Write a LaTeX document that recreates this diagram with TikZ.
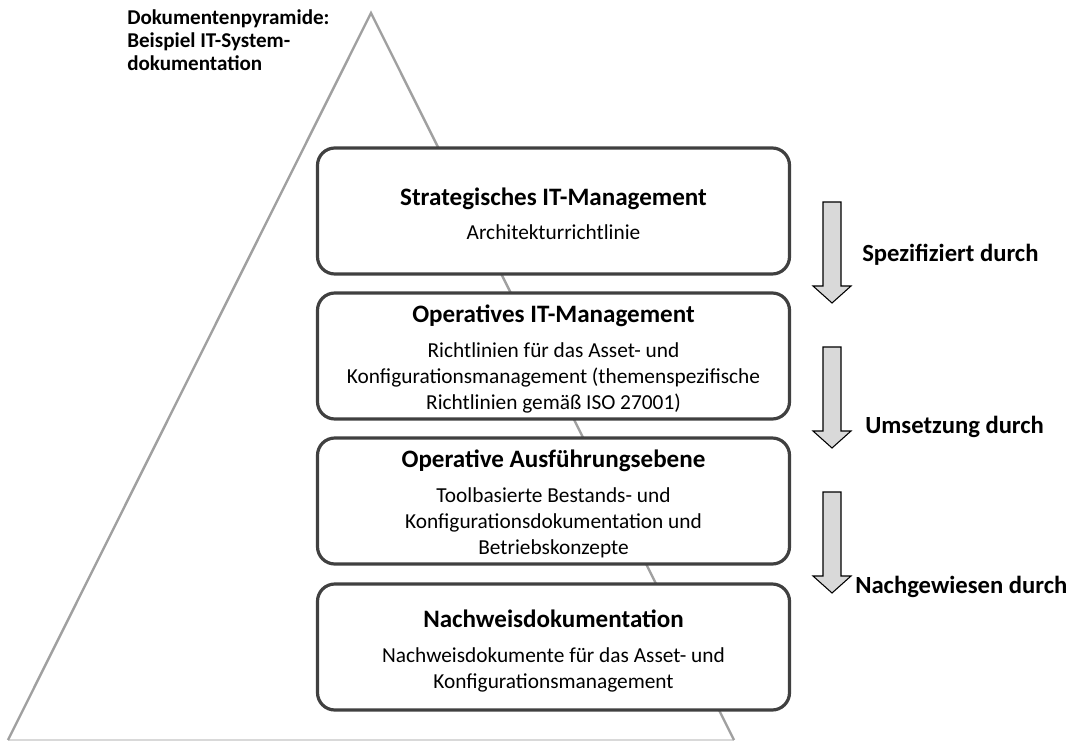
\documentclass[tikz,border=0pt]{standalone}
\usepackage{fontspec}
\setmainfont{Carlito}
\definecolor{edgecol}{HTML}{A0A0A0}
\definecolor{basecol}{HTML}{D9D9D9}
\definecolor{boxline}{HTML}{404040}
\definecolor{arrowfill}{HTML}{D9D9D9}
\tikzset{
  layerbox/.style={draw=boxline, line width=2.4pt, rounded corners=13pt, fill=white,
    minimum width=354pt, minimum height=94.5pt, inner sep=0pt},
  boxtext/.style={align=center, inner sep=0pt, font=\fontsize{16}{19.5}\selectfont},
  downarrow/.style={draw=black, line width=0.8pt, fill=arrowfill},
  sidelabel/.style={font=\bfseries\fontsize{18.5}{20}\selectfont, anchor=west, inner sep=0pt},
}
\newcommand{\ttl}[1]{{\bfseries\fontsize{18.8}{20}\selectfont #1}\\[6.5pt]}
\begin{document}
\begin{tikzpicture}[x=0.75pt,y=-0.75pt]
\useasboundingbox (0,0) rectangle (1081,741);
% pyramid
\coordinate (apex) at (371,13);
\coordinate (bl) at (8,740);
\coordinate (br) at (734,740);
\draw[basecol, line width=1.5pt] (bl) -- (br);
\draw[edgecol, line width=1.8pt] (bl) -- (apex) -- (br);
% title
\node[anchor=north west, align=left, inner sep=0pt, font=\bfseries\fontsize{15.8}{17.4}\selectfont] (title) at (127,9)
  {Dokumentenpyramide:\\Beispiel IT-System-\\dokumentation};
% boxes
\node[layerbox] (b1) at (553.5,211) {};
\node[layerbox] (b2) at (553.5,356) {};
\node[layerbox] (b3) at (553.5,501) {};
\node[layerbox] (b4) at (553.5,647) {};
\node[boxtext] (t1) at ([yshift=-2pt]b1.center) {\ttl{Strategisches IT-Management}Architekturrichtlinie};
\node[boxtext] (t2) at ([yshift=-2.5pt]b2.center) {\ttl{Operatives IT-Management}Richtlinien für das Asset- und\\Konfigurationsmanagement (themenspezifische\\Richtlinien gemäß ISO 27001)};
\node[boxtext] (t3) at ([yshift=-2pt]b3.center) {\ttl{Operative Ausführungsebene}Toolbasierte Bestands- und\\Konfigurationsdokumentation und\\Betriebskonzepte};
\node[boxtext] (t4) at ([yshift=-3pt]b4.center) {\ttl{Nachweisdokumentation}Nachweisdokumente für das Asset- und\\Konfigurationsmanagement};
% arrows
\foreach \i/\t in {1/202,2/347,3/492}{
  \draw[downarrow] (823,\t) -- (841,\t) -- (841,\t+84) -- (851,\t+84) -- (832,\t+101) -- (813,\t+84) -- (823,\t+84) -- cycle;
}
\node[sidelabel] (l1) at (862,255) {Spezifiziert durch};
\node[sidelabel] (l2) at (865,427) {Umsetzung durch};
\node[sidelabel] (l3) at (855,587) {Nachgewiesen durch};
\end{tikzpicture}
\end{document}
